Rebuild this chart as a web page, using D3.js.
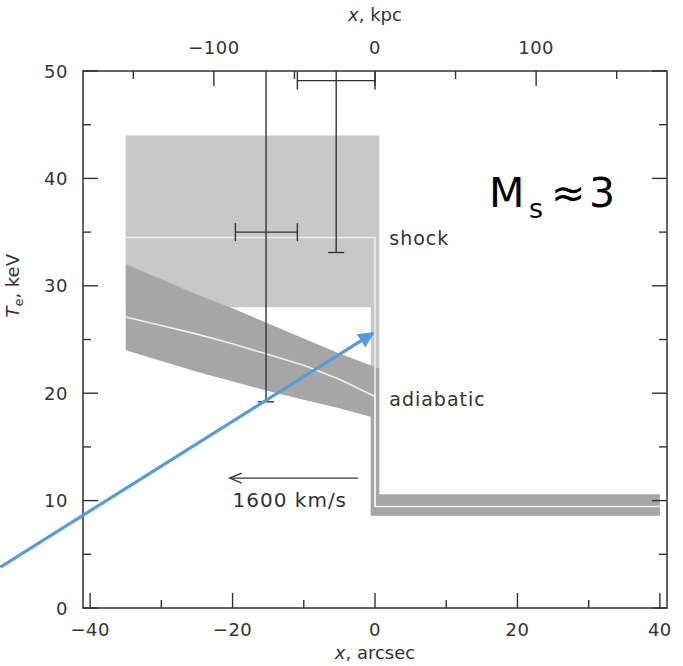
<!DOCTYPE html>
<html>
<head>
<meta charset="utf-8">
<script src="https://cdn.jsdelivr.net/npm/d3@7"></script>
<style>
  body { margin: 0; background: #fff; }
  text { font-family: "DejaVu Sans", sans-serif; }
</style>
</head>
<body>
<div id="chart"></div>
<script>
// ---- data ----
const xTicks = [-40, -30, -20, -10, 0, 10, 20, 30, 40];
const xLabels = [-40, -20, 0, 20, 40];
const yTicks = [0, 5, 10, 15, 20, 25, 30, 35, 40, 45, 50];
const yLabels = [0, 10, 20, 30, 40, 50];
const kpcTicks = [-150, -100, -50, 0, 50, 100, 150];
const kpcLabels = [-100, 0, 100];
const kpcPerArcsec = 4.42;

// shock model band (light gray) and jump strip
const shockBandX = [-35, 0.6];
const shockBandT = [28, 44];
const jumpX = [-0.6, 0.6];
// pre-shock band
const preX = [-0.6, 40];
const preT = [8.6, 10.6];
// shock model line
const shockLineX = [-35, 0, 0, 40];
const shockLineT = [34.5, 34.5, 9.45, 9.45];
// adiabatic model band + line
const adiabX = [-35, -30, -25, -20, -15, -10, -5, 0];
const adiabLo = [24.0, 23.0, 22.0, 21.1, 20.2, 19.4, 18.6, 17.8];
const adiabHi = [32.0, 30.6, 29.2, 27.9, 26.5, 25.1, 23.7, 22.3];
const adiabMid = [27.1, 26.3, 25.5, 24.6, 23.6, 22.6, 21.3, 19.7];

// measured points
const ptX = [-15.3, -5.45];
const ptXLo = [-19.6, -10.9];
const ptXHi = [-10.9, 0];
const ptT = [35.0, 49.1];
const ptTLo = [19.2, 33.1];
const ptTHi = [60, 60];

// annotations
const velArrowX = [-2.4, -20.4];
const velArrowT = 12.1;
const blueArrowX = [-52.6, -0.25];
const blueArrowT = [3.8, 25.6];

// ---- layout ----
const width = 683, height = 666;
const margin = { top: 71, right: 16, bottom: 58, left: 83 };
const iw = width - margin.left - margin.right;
const ih = height - margin.top - margin.bottom;

const x = d3.scaleLinear().domain([-41, 41]).range([0, iw]);
const xk = d3.scaleLinear().domain([-41 * kpcPerArcsec, 41 * kpcPerArcsec]).range([0, iw]);
const y = d3.scaleLinear().domain([0, 50]).range([ih, 0]);

const svg = d3.select('#chart').append('svg')
  .attr('width', width)
  .attr('height', height);

const defs = svg.append('defs');
defs.append('clipPath').attr('id', 'frame-clip')
  .append('rect').attr('width', iw).attr('height', ih);
defs.append('marker')
  .attr('id', 'blue-head')
  .attr('viewBox', '0 0 10 10')
  .attr('refX', 9).attr('refY', 5)
  .attr('markerWidth', 6).attr('markerHeight', 5)
  .attr('markerUnits', 'strokeWidth')
  .attr('orient', 'auto')
  .append('path').attr('d', 'M0,0 L10,5 L0,10 z').attr('fill', '#5b9bd5');

const g = svg.append('g').attr('transform', `translate(${margin.left},${margin.top})`);
const plot = g.append('g').attr('clip-path', 'url(#frame-clip)');

const poly = pts => 'M' + pts.map(p => `${x(p[0])},${y(p[1])}`).join('L') + 'Z';

// light gray shock band with the jump strip
plot.append('path')
  .attr('d', poly([
    [shockBandX[0], shockBandT[1]], [shockBandX[1], shockBandT[1]],
    [jumpX[1], preT[0]], [jumpX[0], preT[0]],
    [jumpX[0], shockBandT[0]], [shockBandX[0], shockBandT[0]]
  ]))
  .attr('fill', '#c8c8c8');

// dark gray adiabatic band + pre-shock band
const n = adiabX.length;
const darkPts = adiabX.map((v, i) => [i === n - 1 ? jumpX[1] : v, adiabHi[i]])
  .concat([[jumpX[1], preT[1]], [preX[1], preT[1]], [preX[1], preT[0]], [preX[0], preT[0]]])
  .concat(adiabX.map((v, i) => [i === n - 1 ? jumpX[0] : v, adiabLo[i]]).reverse());
plot.append('path')
  .attr('d', poly(darkPts))
  .attr('fill', '#a6a6a6');

// model lines
const line = d3.line().x(d => x(d[0])).y(d => y(d[1]));
plot.append('path')
  .attr('d', line(shockLineX.map((v, i) => [v, shockLineT[i]])))
  .attr('fill', 'none').attr('stroke', '#eeeeee').attr('stroke-width', 1.6);
plot.append('path')
  .attr('d', line(adiabX.map((v, i) => [v, adiabMid[i]]).concat([[0, shockLineT[2]]])))
  .attr('fill', 'none').attr('stroke', '#eeeeee').attr('stroke-width', 1.6);

// error bars
const eb = plot.append('g').attr('stroke', '#333').attr('stroke-width', 1.4).attr('fill', 'none');
ptX.forEach((px, i) => {
  eb.append('line').attr('x1', x(px)).attr('x2', x(px)).attr('y1', y(ptTLo[i])).attr('y2', y(ptTHi[i]));
  eb.append('line').attr('x1', x(px) - 8).attr('x2', x(px) + 8).attr('y1', y(ptTLo[i])).attr('y2', y(ptTLo[i]));
  eb.append('line').attr('x1', x(ptXLo[i])).attr('x2', x(ptXHi[i])).attr('y1', y(ptT[i])).attr('y2', y(ptT[i]));
  [ptXLo[i], ptXHi[i]].forEach(e => {
    eb.append('line').attr('x1', x(e)).attr('x2', x(e)).attr('y1', y(ptT[i]) - 9).attr('y2', y(ptT[i]) + 9);
  });
});

// model labels
const lbl = g.append('g').attr('font-size', 19).attr('fill', '#333').attr('letter-spacing', 1);
lbl.append('text').attr('x', x(2)).attr('y', y(34.5) + 8).text('shock');
lbl.append('text').attr('x', x(2)).attr('y', y(19.5) + 7).text('adiabatic');

// velocity arrow
const va = g.append('g').attr('stroke', '#333').attr('stroke-width', 1.3).attr('fill', 'none');
va.append('line').attr('x1', x(velArrowX[0])).attr('x2', x(velArrowX[1]))
  .attr('y1', y(velArrowT)).attr('y2', y(velArrowT));
va.append('path')
  .attr('d', `M${x(velArrowX[1]) + 12},${y(velArrowT) - 5}L${x(velArrowX[1])},${y(velArrowT)}L${x(velArrowX[1]) + 12},${y(velArrowT) + 5}`);
lbl.append('text')
  .attr('x', (x(velArrowX[0]) + x(velArrowX[1])) / 2 - 4)
  .attr('y', y(velArrowT) + 29)
  .attr('text-anchor', 'middle')
  .attr('font-size', 20)
  .text('1600 km/s');

// frame
g.append('rect').attr('width', iw).attr('height', ih)
  .attr('fill', 'none').attr('stroke', '#333').attr('stroke-width', 1.5);

// ticks
const tk = g.append('g').attr('stroke', '#333').attr('stroke-width', 1.4);
xTicks.forEach(v => {
  const len = xLabels.includes(v) ? 15 : 8;
  tk.append('line').attr('x1', x(v)).attr('x2', x(v)).attr('y1', ih).attr('y2', ih - len);
});
kpcTicks.forEach(v => {
  const len = kpcLabels.includes(v) ? 15 : 8;
  tk.append('line').attr('x1', xk(v)).attr('x2', xk(v)).attr('y1', 0).attr('y2', len);
});
yTicks.forEach(v => {
  const len = yLabels.includes(v) ? 15 : 8;
  tk.append('line').attr('x1', 0).attr('x2', len).attr('y1', y(v)).attr('y2', y(v));
  tk.append('line').attr('x1', iw).attr('x2', iw - len).attr('y1', y(v)).attr('y2', y(v));
});

// tick labels
const fmt = d3.format('d');
const tl = g.append('g').attr('font-size', 18).attr('fill', '#333').attr('letter-spacing', 0.5);
xLabels.forEach(v => {
  tl.append('text').attr('x', x(v)).attr('y', ih + 28).attr('text-anchor', 'middle').text(fmt(v));
});
kpcLabels.forEach(v => {
  tl.append('text').attr('x', xk(v)).attr('y', -17).attr('text-anchor', 'middle').text(fmt(v));
});
yLabels.forEach(v => {
  tl.append('text').attr('x', -15).attr('y', y(v) + 6.5).attr('text-anchor', 'end').text(fmt(v));
});

// axis titles
const at = g.append('g').attr('font-size', 18).attr('fill', '#333');
const t1 = at.append('text').attr('x', x(0)).attr('y', ih + 51).attr('text-anchor', 'middle');
t1.append('tspan').attr('font-style', 'italic').text('x');
t1.append('tspan').text(', arcsec');
const t2 = at.append('text').attr('x', x(0)).attr('y', -50).attr('text-anchor', 'middle');
t2.append('tspan').attr('font-style', 'italic').text('x');
t2.append('tspan').text(', kpc');
const t3 = at.append('text')
  .attr('transform', `translate(${-64},${y(30)}) rotate(-90)`)
  .attr('text-anchor', 'middle');
t3.append('tspan').attr('font-style', 'italic').text('T');
t3.append('tspan').attr('font-size', 13).attr('dy', 4).text('e');
t3.append('tspan').attr('dy', -4).text(', keV');

// Mach number annotation
const ms = g.append('text')
  .attr('y', 207 - margin.top)
  .attr('font-family', '"Liberation Sans", sans-serif')
  .attr('fill', '#000');
ms.append('tspan').attr('x', 489 - margin.left).attr('font-size', 41).text('M');
ms.append('tspan').attr('x', 529 - margin.left).attr('font-size', 27).attr('dy', 11).text('s');
ms.append('tspan').attr('x', 551 - margin.left).attr('font-size', 41).attr('dy', -11).text('\u2248');
ms.append('tspan').attr('x', 589 - margin.left).attr('font-size', 41).text('3');

// blue pointer arrow
svg.append('line')
  .attr('x1', margin.left + x(blueArrowX[0])).attr('y1', margin.top + y(blueArrowT[0]))
  .attr('x2', margin.left + x(blueArrowX[1])).attr('y2', margin.top + y(blueArrowT[1]))
  .attr('stroke', '#5b9bd5').attr('stroke-width', 3.2)
  .attr('marker-end', 'url(#blue-head)');
</script>
</body>
</html>
